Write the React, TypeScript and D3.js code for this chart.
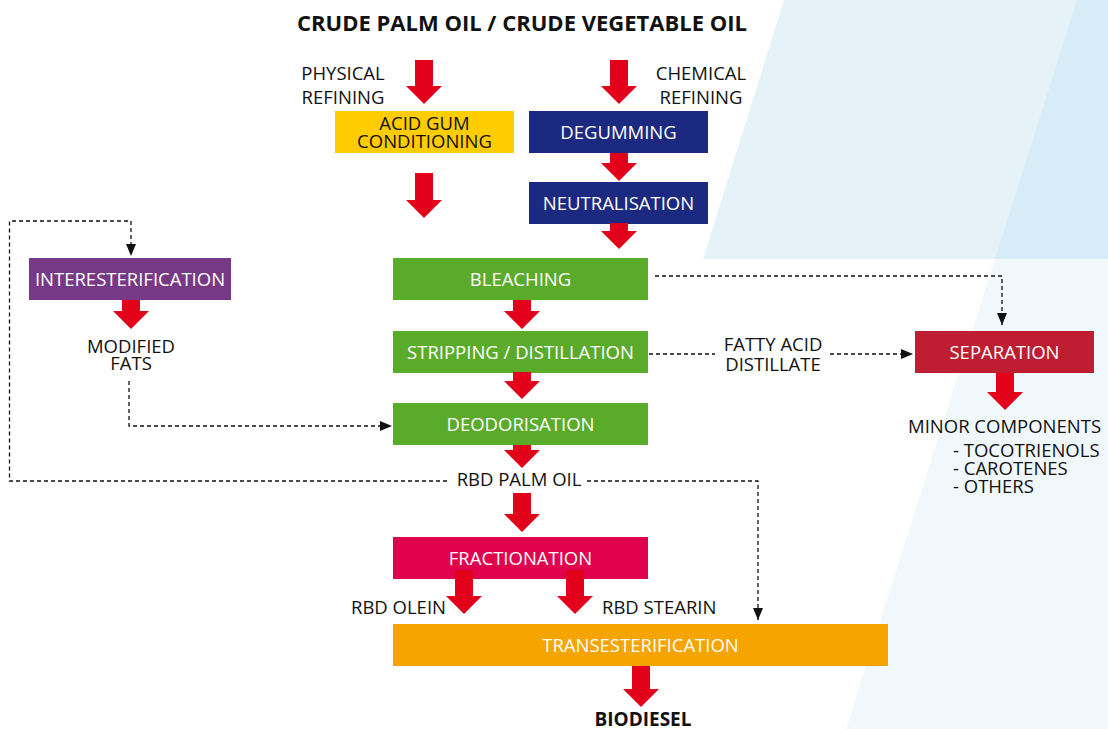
import * as d3 from 'd3';

const W = 1108;
const H = 729;

// ---- data ----
const stepNames = [
  'ACID GUM\nCONDITIONING',
  'DEGUMMING',
  'NEUTRALISATION',
  'BLEACHING',
  'STRIPPING / DISTILLATION',
  'DEODORISATION',
  'INTERESTERIFICATION',
  'SEPARATION',
  'FRACTIONATION',
  'TRANSESTERIFICATION',
];
const stepColumns = ['acid', 'chem', 'chem', 'main', 'main', 'main', 'left', 'sep', 'main', 'trans'];
const stepRows = ['r1', 'r1', 'r2', 'r3', 'r4', 'r5', 'r3', 'r4', 'r6', 'r7'];
const stepColors = ['#ffcc00', '#1b2a80', '#1b2a80', '#5bab2b', '#5bab2b', '#5bab2b', '#773886', '#be1d32', '#e1024e', '#f5a400'];
const stepTextColors = ['#111', '#fff', '#fff', '#fff', '#fff', '#fff', '#fff', '#fff', '#fff', '#fff'];

const labelTexts = [
  'PHYSICAL\nREFINING',
  'CHEMICAL\nREFINING',
  'MODIFIED\nFATS',
  'FATTY ACID\nDISTILLATE',
  'RBD PALM OIL',
  'RBD OLEIN',
  'RBD STEARIN',
];
const minorComponents = ['MINOR COMPONENTS', '- TOCOTRIENOLS', '- CAROTENES', '- OTHERS'];
const titleText = 'CRUDE PALM OIL / CRUDE VEGETABLE OIL';
const endText = 'BIODIESEL';

// ---- layout ----
const colScale = d3.scaleOrdinal<string, [number, number]>()
  .domain(['acid', 'chem', 'main', 'left', 'sep', 'trans'])
  .range([[335, 514], [529, 708], [393, 648], [29, 231], [915, 1094], [393, 888]]);
const rowScale = d3.scaleOrdinal<string, number>()
  .domain(['r1', 'r2', 'r3', 'r4', 'r5', 'r6', 'r7'])
  .range([111, 182, 258, 331, 403, 537, 624]);
const boxH = 42;

// block arrows: [centre x, top, tip]
const blockArrows: [number, number, number][] = [
  [424, 60, 104], [619, 60, 104], [424, 173, 218],
  [619, 153, 181], [619, 223, 249],
  [522, 300, 329], [522, 372, 399], [522, 445, 468], [522, 493, 532],
  [464, 570, 614], [575, 570, 614], [641, 666, 707],
  [131, 300, 329], [1005, 373, 410],
];

// dashed connectors: points, arrow direction at end
const dashed: { pts: [number, number][]; head: 'down' | 'right' | null }[] = [
  { pts: [[655, 276], [1002, 276], [1002, 325]], head: 'down' },
  { pts: [[649, 354], [715, 354]], head: null },
  { pts: [[830, 354], [913, 354]], head: 'right' },
  { pts: [[129, 381], [129, 426], [392, 426]], head: 'right' },
  { pts: [[447, 481], [9.5, 481], [9.5, 221], [131, 221], [131, 256]], head: 'down' },
  { pts: [[587, 481], [758, 481], [758, 620]], head: 'down' },
];

const FONT = '"Open Sans", sans-serif';
const FS = 18.5;

function arrowPath(cx: number, y0: number, y1: number) {
  const p = d3.path();
  p.moveTo(cx - 9, y0);
  p.lineTo(cx + 9, y0);
  p.lineTo(cx + 9, y1 - 18);
  p.lineTo(cx + 18, y1 - 18);
  p.lineTo(cx, y1);
  p.lineTo(cx - 18, y1 - 18);
  p.lineTo(cx - 9, y1 - 18);
  p.closePath();
  return p.toString();
}

function headPath(x: number, y: number, dir: 'down' | 'right') {
  if (dir === 'down') return `M${x},${y}L${x - 5},${y - 12}L${x + 5},${y - 12}Z`;
  return `M${x},${y}L${x - 12},${y - 5}L${x - 12},${y + 5}Z`;
}

const line = d3.line<[number, number]>();

function MultiText({ text, x, y, anchor = 'middle', fill = '#111', step = 18, size = FS, weight = 400 }:
  { text: string; x: number; y: number; anchor?: string; fill?: string; step?: number; size?: number; weight?: number }) {
  const parts = text.split('\n');
  return (
    <text x={x} y={y} textAnchor={anchor} fill={fill} fontFamily={FONT} fontSize={size} fontWeight={weight}>
      {parts.map((t, i) => (
        <tspan key={i} x={x} dy={i === 0 ? 0 : step}>{t}</tspan>
      ))}
    </text>
  );
}

export default function App() {
  const labelPos: [number, number, string, number][] = [
    [343, 80, 'middle', 24],
    [701, 80, 'middle', 24],
    [131, 353, 'middle', 17],
    [773, 351, 'middle', 20],
    [519, 486, 'middle', 18],
    [446, 614, 'end', 18],
    [602, 614, 'start', 18],
  ];
  const minorPos: [number, number][] = [[908, 433], [953, 457], [953, 475], [953, 493]];

  return (
    <div style={{ position: 'absolute', left: 0, top: 0, width: W, height: H, background: '#fff' }}>
      <svg width={W} height={H} viewBox={`0 0 ${W} ${H}`}>
        {/* background shapes */}
        <polygon points="784,0 1108,0 1108,259 703,259" fill="rgb(0,140,200)" fillOpacity={0.1} />
        <polygon points="1077,0 1108,0 1108,729 846,729" fill="rgb(0,130,200)" fillOpacity={0.06} />

        {/* dashed connectors */}
        {dashed.map((d, i) => {
          const last = d.pts[d.pts.length - 1];
          return (
            <g key={i}>
              <path d={line(d.pts) ?? ''} fill="none" stroke="#111" strokeWidth={1.3} strokeDasharray="4 3" />
              {d.head && <path d={headPath(last[0], last[1], d.head)} fill="#111" />}
            </g>
          );
        })}

        {/* process boxes */}
        {stepNames.map((name, i) => {
          const [x0, x1] = colScale(stepColumns[i]);
          const y0 = rowScale(stepRows[i]);
          const lines = name.split('\n');
          const cy = y0 + boxH / 2;
          const firstY = cy + FS * 0.36 - ((lines.length - 1) * 18) / 2;
          return (
            <g key={name}>
              <rect x={x0} y={y0} width={x1 - x0} height={boxH} fill={stepColors[i]} />
              <MultiText text={name} x={(x0 + x1) / 2} y={firstY} fill={stepTextColors[i]} />
            </g>
          );
        })}

        {/* block arrows */}
        {blockArrows.map(([cx, a, b], i) => (
          <path key={i} d={arrowPath(cx, a, b)} fill="#e2001a" />
        ))}

        {/* title & labels */}
        <MultiText text={titleText} x={522} y={31} size={22} weight={700} />
        {labelTexts.map((t, i) => (
          <MultiText key={t} text={t} x={labelPos[i][0]} y={labelPos[i][1]} anchor={labelPos[i][2]} step={labelPos[i][3]} />
        ))}
        {minorComponents.map((t, i) => (
          <MultiText key={t} text={t} x={minorPos[i][0]} y={minorPos[i][1]} anchor="start" />
        ))}
        <MultiText text={endText} x={643} y={726} size={19} weight={700} />
      </svg>
    </div>
  );
}
